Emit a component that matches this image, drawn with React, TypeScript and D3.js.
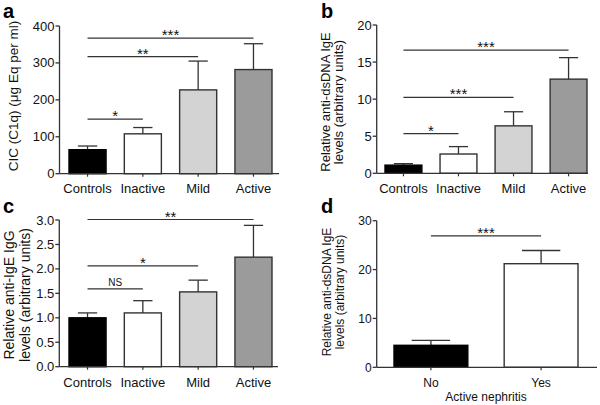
import * as d3 from "d3";

const groups = ["Controls", "Inactive", "Mild", "Active"];
const groupFills = ["#000000", "#ffffff", "#d3d3d3", "#9b9b9b"];

// a: circulating immune complexes
const cicMean = [65, 108, 227, 282];
const cicErr = [10, 17, 78, 70];
const cicTicks = [0, 100, 200, 300, 400];
const cicSigTo = [1, 2, 3];
const cicSigY = [148, 317, 367];
const cicSigText = ["*", "**", "***"];

// b: anti-dsDNA IgE by activity
const dsMean = [1.1, 2.6, 6.4, 12.7];
const dsErr = [0.2, 1.0, 1.9, 2.9];
const dsTicks = [0, 5, 10, 15, 20];
const dsSigTo = [1, 2, 3];
const dsSigY = [5.35, 10.25, 16.6];
const dsSigText = ["*", "***", "***"];

// c: anti-IgE IgG
const iggMean = [1.0, 1.1, 1.53, 2.24];
const iggErr = [0.1, 0.25, 0.24, 0.65];
const iggTicks = [0, 0.5, 1, 1.5, 2, 2.5, 3];
const iggSigTo = [1, 2, 3];
const iggSigY = [1.59, 2.06, 3.01];
const iggSigText = ["NS", "*", "**"];

// d: anti-dsDNA IgE by nephritis
const nephritis = ["No", "Yes"];
const nephFills = ["#000000", "#ffffff"];
const nephMean = [4.5, 21.2];
const nephErr = [1.0, 2.7];
const nephTicks = [0, 10, 20, 30];
const nephSigTo = [1];
const nephSigY = [26.9];
const nephSigText = ["***"];

const font = "Arial, 'Liberation Sans', sans-serif";
const ink = "#333";

interface PanelProps {
  letter: string;
  letterX: number;
  letterY: number;
  cats: string[];
  means: number[];
  errs: number[];
  fills: string[];
  yMax: number;
  ticks: number[];
  fmt: (v: number) => string;
  x0: number;
  x1: number;
  band0: number;
  band1: number;
  yTop: number;
  yBottom: number;
  sigTo: number[];
  sigY: number[];
  sigText: string[];
  title: string[];
  titleX: number[];
  titleY: number;
  titleSize: number;
  fontSize: number;
  catY: number;
  xTitle?: string;
  xTitleY?: number;
}

function Panel(p: PanelProps) {
  const x = d3.scaleBand<string>().domain(p.cats).range([p.band0, p.band1]).paddingInner(0.33).paddingOuter(0);
  const y = d3.scaleLinear().domain([0, p.yMax]).range([p.yBottom, p.yTop]);
  const bw = x.bandwidth();
  const cx = (c: string) => (x(c) ?? 0) + bw / 2;
  const cap = bw * 0.52;

  return (
    <g fontFamily={font}>
      <text x={p.letterX} y={p.letterY} fontSize={20} fontWeight="bold" fill="#000">
        {p.letter}
      </text>
      {p.title.map((line, i) => (
        <text
          key={line}
          transform={`translate(${p.titleX[i]},${p.titleY}) rotate(-90)`}
          textAnchor="middle"
          dy="0.35em"
          fontSize={p.titleSize}
          fill="#111"
        >
          {line}
        </text>
      ))}
      {/* y axis */}
      <line x1={p.x0} x2={p.x0} y1={p.yTop} y2={p.yBottom} stroke={ink} strokeWidth={1.3} />
      {p.ticks.map((t) => (
        <g key={t}>
          <line x1={p.x0 - 4} x2={p.x0} y1={y(t)} y2={y(t)} stroke={ink} strokeWidth={1.3} />
          <text x={p.x0 - 5} y={y(t)} dy="0.35em" textAnchor="end" fontSize={p.fontSize} fill="#111">
            {p.fmt(t)}
          </text>
        </g>
      ))}
      {/* bars */}
      {p.cats.map((c, i) => {
        const top = y(p.means[i]);
        const errTop = y(p.means[i] + p.errs[i]);
        return (
          <g key={c}>
            <line x1={cx(c)} x2={cx(c)} y1={top} y2={errTop} stroke={ink} strokeWidth={1.3} />
            <line x1={cx(c) - cap / 2} x2={cx(c) + cap / 2} y1={errTop} y2={errTop} stroke={ink} strokeWidth={1.3} />
            <rect
              x={x(c)}
              y={top}
              width={bw}
              height={p.yBottom - top}
              fill={p.fills[i]}
              stroke={p.fills[i] === "#000000" ? "#000" : ink}
              strokeWidth={1.4}
            />
            <line x1={cx(c)} x2={cx(c)} y1={p.yBottom} y2={p.yBottom + 3} stroke={ink} strokeWidth={1.2} />
            <text x={cx(c)} y={p.catY} textAnchor="middle" fontSize={p.fontSize} fill="#111">
              {c}
            </text>
          </g>
        );
      })}
      {/* x axis */}
      <line x1={p.x0} x2={p.x1} y1={p.yBottom} y2={p.yBottom} stroke={ink} strokeWidth={1.3} />
      {p.xTitle ? (
        <text x={(p.band0 + p.band1) / 2} y={p.xTitleY} textAnchor="middle" fontSize={p.fontSize} fill="#111">
          {p.xTitle}
        </text>
      ) : null}
      {/* significance brackets */}
      {p.sigTo.map((to, i) => {
        const xa = cx(p.cats[0]);
        const xb = cx(p.cats[to]);
        const ly = y(p.sigY[i]);
        const isNs = p.sigText[i] === "NS";
        return (
          <g key={i}>
            <line x1={xa} x2={xb} y1={ly} y2={ly} stroke={ink} strokeWidth={1.2} />
            <text
              x={(xa + xb) / 2}
              y={isNs ? ly - 3 : ly + 2}
              textAnchor="middle"
              fontSize={isNs ? 10 : 15}
              fill="#111"
            >
              {p.sigText[i]}
            </text>
          </g>
        );
      })}
    </g>
  );
}

const intFmt = d3.format("d");
const oneFmt = d3.format(".1f");

export default function App() {
  return (
    <svg
      width={600}
      height={405}
      viewBox="0 0 600 405"
      style={{ position: "absolute", left: 0, top: 0, background: "#fff" }}
    >
      <Panel
        letter="a"
        letterX={3}
        letterY={18}
        cats={groups}
        means={cicMean}
        errs={cicErr}
        fills={groupFills}
        yMax={400}
        ticks={cicTicks}
        fmt={intFmt}
        x0={59.5}
        x1={279}
        band0={69}
        band1={272}
        yTop={26}
        yBottom={173.7}
        sigTo={cicSigTo}
        sigY={cicSigY}
        sigText={cicSigText}
        title={["CIC (C1q) (\u03bcg Eq per ml)"]}
        titleX={[13]}
        titleY={96}
        titleSize={13.5}
        fontSize={13}
        catY={192.5}
      />
      <Panel
        letter="b"
        letterX={321}
        letterY={18}
        cats={groups}
        means={dsMean}
        errs={dsErr}
        fills={groupFills}
        yMax={20}
        ticks={dsTicks}
        fmt={intFmt}
        x0={376.7}
        x1={588}
        band0={385}
        band1={587}
        yTop={25}
        yBottom={173.3}
        sigTo={dsSigTo}
        sigY={dsSigY}
        sigText={dsSigText}
        title={["Relative anti-dsDNA IgE", "levels (arbitrary units)"]}
        titleX={[325, 338]}
        titleY={102}
        titleSize={13}
        fontSize={13}
        catY={193}
      />
      <Panel
        letter="c"
        letterX={3}
        letterY={213}
        cats={groups}
        means={iggMean}
        errs={iggErr}
        fills={groupFills}
        yMax={3}
        ticks={iggTicks}
        fmt={oneFmt}
        x0={59.3}
        x1={278}
        band0={69}
        band1={272}
        yTop={220}
        yBottom={366.7}
        sigTo={iggSigTo}
        sigY={iggSigY}
        sigText={iggSigText}
        title={["Relative anti-IgE IgG", "levels (arbitrary units)"]}
        titleX={[9.5, 25]}
        titleY={295}
        titleSize={14}
        fontSize={13}
        catY={386.5}
      />
      <Panel
        letter="d"
        letterX={321}
        letterY={213}
        cats={nephritis}
        means={nephMean}
        errs={nephErr}
        fills={nephFills}
        yMax={30}
        ticks={nephTicks}
        fmt={intFmt}
        x0={376.7}
        x1={597}
        band0={394}
        band1={578}
        yTop={220.7}
        yBottom={367.3}
        sigTo={nephSigTo}
        sigY={nephSigY}
        sigText={nephSigText}
        title={["Relative anti-dsDNA IgE", "levels (arbitrary units)"]}
        titleX={[327, 340]}
        titleY={292}
        titleSize={12}
        fontSize={12}
        catY={387}
        xTitle="Active nephritis"
        xTitleY={401}
      />
    </svg>
  );
}
